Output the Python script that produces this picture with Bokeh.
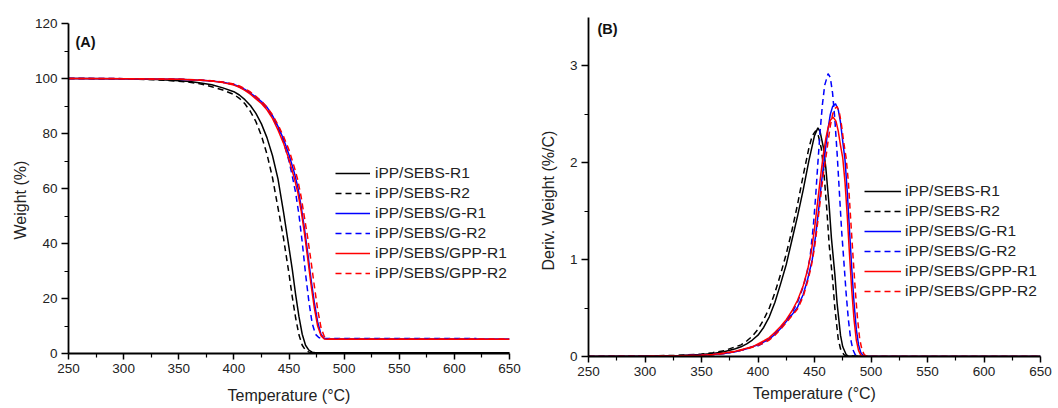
import math
from bokeh.plotting import figure
from bokeh.layouts import row, column
from bokeh.models import Range1d, FixedTicker, Legend, LegendItem, Label, Title
from bokeh.embed import file_html
from bokeh.resources import INLINE

FONT = "Liberation Sans"

labels = ["iPP/SEBS-R1", "iPP/SEBS-R2", "iPP/SEBS/G-R1", "iPP/SEBS/G-R2",
          "iPP/SEBS/GPP-R1", "iPP/SEBS/GPP-R2"]
colors = ["black", "black", "#0000ff", "#0000ff", "#ff0000", "#ff0000"]
dashes = ["solid", "6 4", "solid", "6 4", "solid", "6 4"]

x_ticks = [250, 300, 350, 400, 450, 500, 550, 600, 650]

# ---------------- (A) TGA: weight (%) ----------------
tga_T_sebs_r1 = [250, 300, 330, 350, 360, 370, 380, 390, 400, 405, 410, 415, 420, 425, 430, 435,
                 440, 445, 450, 453, 456, 459, 462, 465, 468, 471, 474, 650]
tga_W_sebs_r1 = [100, 99.9, 99.6, 99.2, 98.9, 98.4, 97.7, 96.6, 95.2, 94.0, 92.3, 90.2, 87.3, 83.5,
                 78.5, 72.0, 63.5, 51.5, 38.5, 30.5, 21.5, 13.5, 7.0, 3.0, 1.2, 0.5, 0.3, 0.3]

tga_T_sebs_r2 = [250, 300, 330, 350, 360, 370, 380, 390, 400, 405, 410, 415, 420, 425, 430, 435,
                 440, 445, 450, 453, 456, 459, 462, 465, 468, 471, 650]
tga_W_sebs_r2 = [100, 99.9, 99.5, 99.0, 98.6, 98.0, 97.0, 95.8, 94.2, 92.8, 90.8, 88.0, 84.3, 79.2,
                 72.5, 64.0, 53.0, 42.0, 29.0, 20.5, 13.0, 6.8, 3.0, 1.2, 0.5, 0.3, 0.3]

tga_T_g_r1 = [250, 300, 350, 370, 380, 390, 400, 405, 410, 415, 420, 425, 430, 435, 440, 445,
              450, 455, 458, 461, 464, 467, 470, 473, 476, 479, 482, 485, 650]
tga_W_g_r1 = [100, 99.95, 99.7, 99.4, 99.1, 98.6, 97.8, 97.0, 96.0, 94.7, 93.2, 91.6, 89.6, 86.5,
              82.6, 78.0, 72.3, 65.5, 60.5, 53.5, 45.5, 36.5, 27.0, 18.5, 11.5, 7.0, 5.5, 5.3, 5.3]

tga_T_g_r2 = [250, 300, 350, 370, 380, 390, 400, 405, 410, 415, 420, 425, 430, 435, 440, 445,
              450, 453, 456, 459, 462, 465, 468, 471, 474, 477, 480, 620]
tga_W_g_r2 = [100, 99.95, 99.7, 99.4, 99.1, 98.6, 97.8, 97.0, 96.0, 94.7, 93.2, 91.3, 89.0, 86.0,
              82.2, 77.0, 70.0, 64.5, 58.5, 50.5, 40.5, 29.0, 19.0, 11.0, 7.0, 5.8, 5.5, 5.5]

tga_T_gpp_r1 = [250, 300, 350, 370, 380, 390, 400, 405, 410, 415, 420, 425, 430, 435, 440, 445,
                450, 455, 458, 461, 464, 467, 470, 473, 476, 479, 482, 485, 650]
tga_W_gpp_r1 = [100, 99.95, 99.7, 99.4, 99.1, 98.5, 97.6, 96.8, 95.7, 94.3, 92.6, 90.9, 88.6, 85.5,
                81.3, 76.5, 70.5, 63.5, 58.5, 52.0, 43.8, 34.5, 25.0, 16.5, 10.0, 6.5, 5.3, 5.2, 5.2]

tga_T_gpp_r2 = [250, 300, 350, 370, 380, 390, 400, 405, 410, 415, 420, 425, 430, 435, 440, 445,
                450, 455, 458, 461, 464, 467, 470, 473, 476, 479, 482, 485, 488, 650]
tga_W_gpp_r2 = [100, 99.95, 99.75, 99.5, 99.2, 98.7, 98.0, 97.3, 96.3, 95.1, 93.5, 91.8, 89.6, 86.8,
                83.2, 79.0, 74.0, 67.5, 63.0, 57.0, 49.5, 42.0, 33.5, 24.5, 16.0, 9.5, 6.2, 5.4, 5.3, 5.3]

# ---------------- (B) DTG: deriv. weight (%/C) ----------------
dtg_T_sebs_r1 = [250, 300, 330, 350, 360, 370, 380, 385, 390, 395, 400, 405, 410, 415, 420, 425, 430,
                 435, 440, 445, 450, 453, 455, 458, 460, 463, 465, 468, 470, 473, 475, 478, 480, 500, 650]
dtg_V_sebs_r1 = [0, 0.005, 0.01, 0.02, 0.03, 0.05, 0.08, 0.10, 0.13, 0.17, 0.22, 0.30, 0.41, 0.56, 0.75,
                 0.95, 1.20, 1.45, 1.72, 2.02, 2.28, 2.36, 2.32, 2.15, 1.95, 1.55, 1.22, 0.85, 0.55, 0.22,
                 0.10, 0.02, 0.005, 0, 0]

dtg_T_sebs_r2 = [250, 300, 330, 350, 360, 370, 380, 385, 390, 395, 400, 405, 410, 415, 420, 425, 430,
                 435, 440, 445, 448, 451, 453, 456, 458, 461, 463, 466, 468, 471, 473, 476, 478, 500, 650]
dtg_V_sebs_r2 = [0, 0.006, 0.012, 0.025, 0.04, 0.06, 0.10, 0.12, 0.16, 0.21, 0.28, 0.38, 0.50, 0.66, 0.85,
                 1.06, 1.30, 1.57, 1.87, 2.15, 2.28, 2.33, 2.30, 2.15, 1.95, 1.50, 1.15, 0.80, 0.50, 0.18,
                 0.08, 0.02, 0.005, 0, 0]

dtg_T_g_r1 = [250, 300, 330, 350, 360, 370, 380, 390, 395, 400, 405, 410, 415, 420, 425, 430, 435, 440,
              444, 448, 451, 454, 456, 458, 460, 462, 464, 466, 468.5, 471, 473, 475, 477, 479, 481, 483,
              485, 487, 489, 491, 493, 495, 500, 650]
dtg_V_g_r1 = [0, 0.003, 0.007, 0.012, 0.02, 0.03, 0.05, 0.08, 0.10, 0.12, 0.15, 0.18, 0.23, 0.29, 0.36,
              0.43, 0.51, 0.64, 0.80, 1.0, 1.25, 1.55, 1.78, 1.97, 2.17, 2.35, 2.50, 2.58, 2.61, 2.55,
              2.42, 2.22, 2.03, 1.70, 1.30, 0.90, 0.55, 0.28, 0.12, 0.04, 0.01, 0.003, 0, 0]

dtg_T_g_r2 = [250, 300, 330, 350, 360, 370, 380, 390, 395, 400, 405, 410, 415, 420, 425, 430, 435, 440,
              443, 446, 449, 451, 453, 455, 457, 459, 462, 464, 466, 468, 470, 472, 474, 476, 478, 480,
              482, 484, 486, 488, 495, 650]
dtg_V_g_r2 = [0, 0.003, 0.007, 0.012, 0.02, 0.03, 0.05, 0.08, 0.10, 0.11, 0.14, 0.18, 0.24, 0.30, 0.37,
              0.45, 0.56, 0.72, 0.85, 1.02, 1.35, 1.65, 2.0, 2.33, 2.60, 2.80, 2.92, 2.88, 2.72, 2.45,
              2.10, 1.70, 1.30, 0.98, 0.65, 0.38, 0.18, 0.07, 0.02, 0.005, 0, 0]

dtg_T_gpp_r1 = [250, 300, 330, 350, 360, 370, 380, 390, 395, 400, 405, 410, 415, 420, 425, 430, 435, 440,
                444, 447, 450, 453, 456, 458, 460, 462, 464, 466.5, 469, 471, 473, 475, 477, 479, 481,
                483, 485, 487, 489, 491, 493, 500, 650]
dtg_V_gpp_r1 = [0, 0.003, 0.007, 0.013, 0.02, 0.035, 0.055, 0.085, 0.10, 0.13, 0.16, 0.195, 0.25, 0.31,
                0.38, 0.47, 0.58, 0.73, 0.90, 1.07, 1.32, 1.62, 1.92, 2.10, 2.25, 2.36, 2.44, 2.47, 2.43,
                2.33, 2.18, 2.05, 1.80, 1.45, 1.05, 0.68, 0.38, 0.17, 0.06, 0.015, 0.003, 0, 0]

dtg_T_gpp_r2 = [250, 300, 330, 350, 360, 370, 380, 390, 395, 400, 405, 410, 415, 420, 425, 430, 435, 440,
                444, 447, 450, 453, 456, 458, 460, 462, 464, 466, 468, 470, 472, 474, 476, 478, 480, 482,
                484, 486, 488, 490, 492, 494, 496, 500, 650]
dtg_V_gpp_r2 = [0, 0.003, 0.007, 0.012, 0.018, 0.03, 0.05, 0.08, 0.095, 0.115, 0.14, 0.17, 0.22, 0.28,
                0.35, 0.42, 0.49, 0.62, 0.78, 0.92, 1.12, 1.40, 1.70, 1.90, 2.05, 2.22, 2.38, 2.50, 2.56,
                2.58, 2.52, 2.38, 2.20, 2.05, 1.80, 1.42, 1.05, 0.70, 0.40, 0.18, 0.07, 0.02, 0.005, 0, 0]

tga_series = [(tga_T_sebs_r1, tga_W_sebs_r1), (tga_T_sebs_r2, tga_W_sebs_r2),
              (tga_T_g_r1, tga_W_g_r1), (tga_T_g_r2, tga_W_g_r2),
              (tga_T_gpp_r1, tga_W_gpp_r1), (tga_T_gpp_r2, tga_W_gpp_r2)]
dtg_series = [(dtg_T_sebs_r1, dtg_V_sebs_r1), (dtg_T_sebs_r2, dtg_V_sebs_r2),
              (dtg_T_g_r1, dtg_V_g_r1), (dtg_T_g_r2, dtg_V_g_r2),
              (dtg_T_gpp_r1, dtg_V_gpp_r1), (dtg_T_gpp_r2, dtg_V_gpp_r2)]


def style_axes(p):
    for ax in (p.xaxis[0], p.yaxis[0]):
        ax.axis_line_width = 1.8
        ax.axis_line_color = "black"
        ax.major_tick_line_width = 1.5
        ax.minor_tick_line_width = 1.2
        ax.major_tick_line_color = "black"
        ax.minor_tick_line_color = "black"
        ax.major_tick_in = 0
        ax.minor_tick_in = 0
        ax.major_label_text_font = FONT
        ax.major_label_text_font_size = "13.5px"
        ax.major_label_text_color = "#222222"
        ax.axis_label_text_font = FONT
        ax.axis_label_text_font_style = "normal"
        ax.axis_label_text_font_size = "16px"
        ax.axis_label_text_color = "#222222"
    p.xaxis[0].major_tick_out = 6
    p.xaxis[0].minor_tick_out = 4
    p.yaxis[0].major_tick_out = 7
    p.yaxis[0].minor_tick_out = 4
    p.xaxis[0].major_label_standoff = 4
    p.yaxis[0].major_label_standoff = 4
    p.xgrid.visible = False
    p.ygrid.visible = False
    p.outline_line_color = None


def make_panel(series, width, height, mbl, mbr, mbt, mbb, yr, yticks, yminor, ylabel,
               ylab_offset, ylab_standoff, tag, tag_pos, legend_loc, glyph_w, standoff, lfs,
               xlabel_standoff):
    p = figure(width=width, height=height, output_backend="svg", toolbar_location=None,
               x_range=Range1d(250, 650), y_range=Range1d(*yr),
               min_border_left=mbl, min_border_right=mbr, min_border_top=mbt,
               min_border_bottom=mbb, background_fill_color="white", border_fill_color="white")
    p.xaxis.ticker = FixedTicker(ticks=x_ticks, minor_ticks=[t + 25 for t in x_ticks[:-1]])
    p.yaxis.ticker = FixedTicker(ticks=yticks, minor_ticks=yminor)
    p.xaxis.axis_label = "Temperature (°C)"
    p.xaxis.axis_label_standoff = xlabel_standoff
    style_axes(p)
    items = []
    for (xs, ys), lab, c, d in zip(series, labels, colors, dashes):
        r = p.line(xs, ys, line_color=c, line_width=1.5, line_dash=d)
        items.append(LegendItem(label=lab, renderers=[r]))
    leg = Legend(items=items, location=legend_loc, border_line_color=None,
                 background_fill_alpha=0, padding=0, margin=0, spacing=0,
                 glyph_height=20, glyph_width=glyph_w, label_height=20,
                 label_standoff=standoff, label_text_font=FONT,
                 label_text_font_size=lfs, label_text_color="#222222")
    p.add_layout(leg, "center")
    p.add_layout(Title(text=ylabel, align="left", offset=ylab_offset, standoff=ylab_standoff,
                       text_font=FONT, text_font_size="16px", text_font_style="normal",
                       text_color="#222222"), "left")
    p.add_layout(Label(x=tag_pos[0], y=tag_pos[1], x_units="screen", y_units="screen",
                       text=tag, text_align="center", text_baseline="middle",
                       text_font=FONT, text_font_size="14.5px", text_font_style="bold",
                       text_color="#111111"))
    return p


pA = make_panel(tga_series, 526, 408, 68, 17, 23, 55, (0, 120),
                [0, 20, 40, 60, 80, 100, 120], [10, 30, 50, 70, 90, 110], "Weight (%)",
                114, 5, "(A)", (17, 312), (267, 70), 35, 5, "15.5px", 11)
pB = make_panel(dtg_series, 532, 408, 62, 18, 17, 52, (0, 3.5),
                [0, 1, 2, 3], [0.5, 1.5, 2.5], "Deriv. Weight (%/C)",
                86, 20, "(B)", (19, 328), (276, 55), 37, 4, "15.5px", 6)

layout = row(column(pA), column(pB))
open("out.html", "w").write(file_html(layout, INLINE))
